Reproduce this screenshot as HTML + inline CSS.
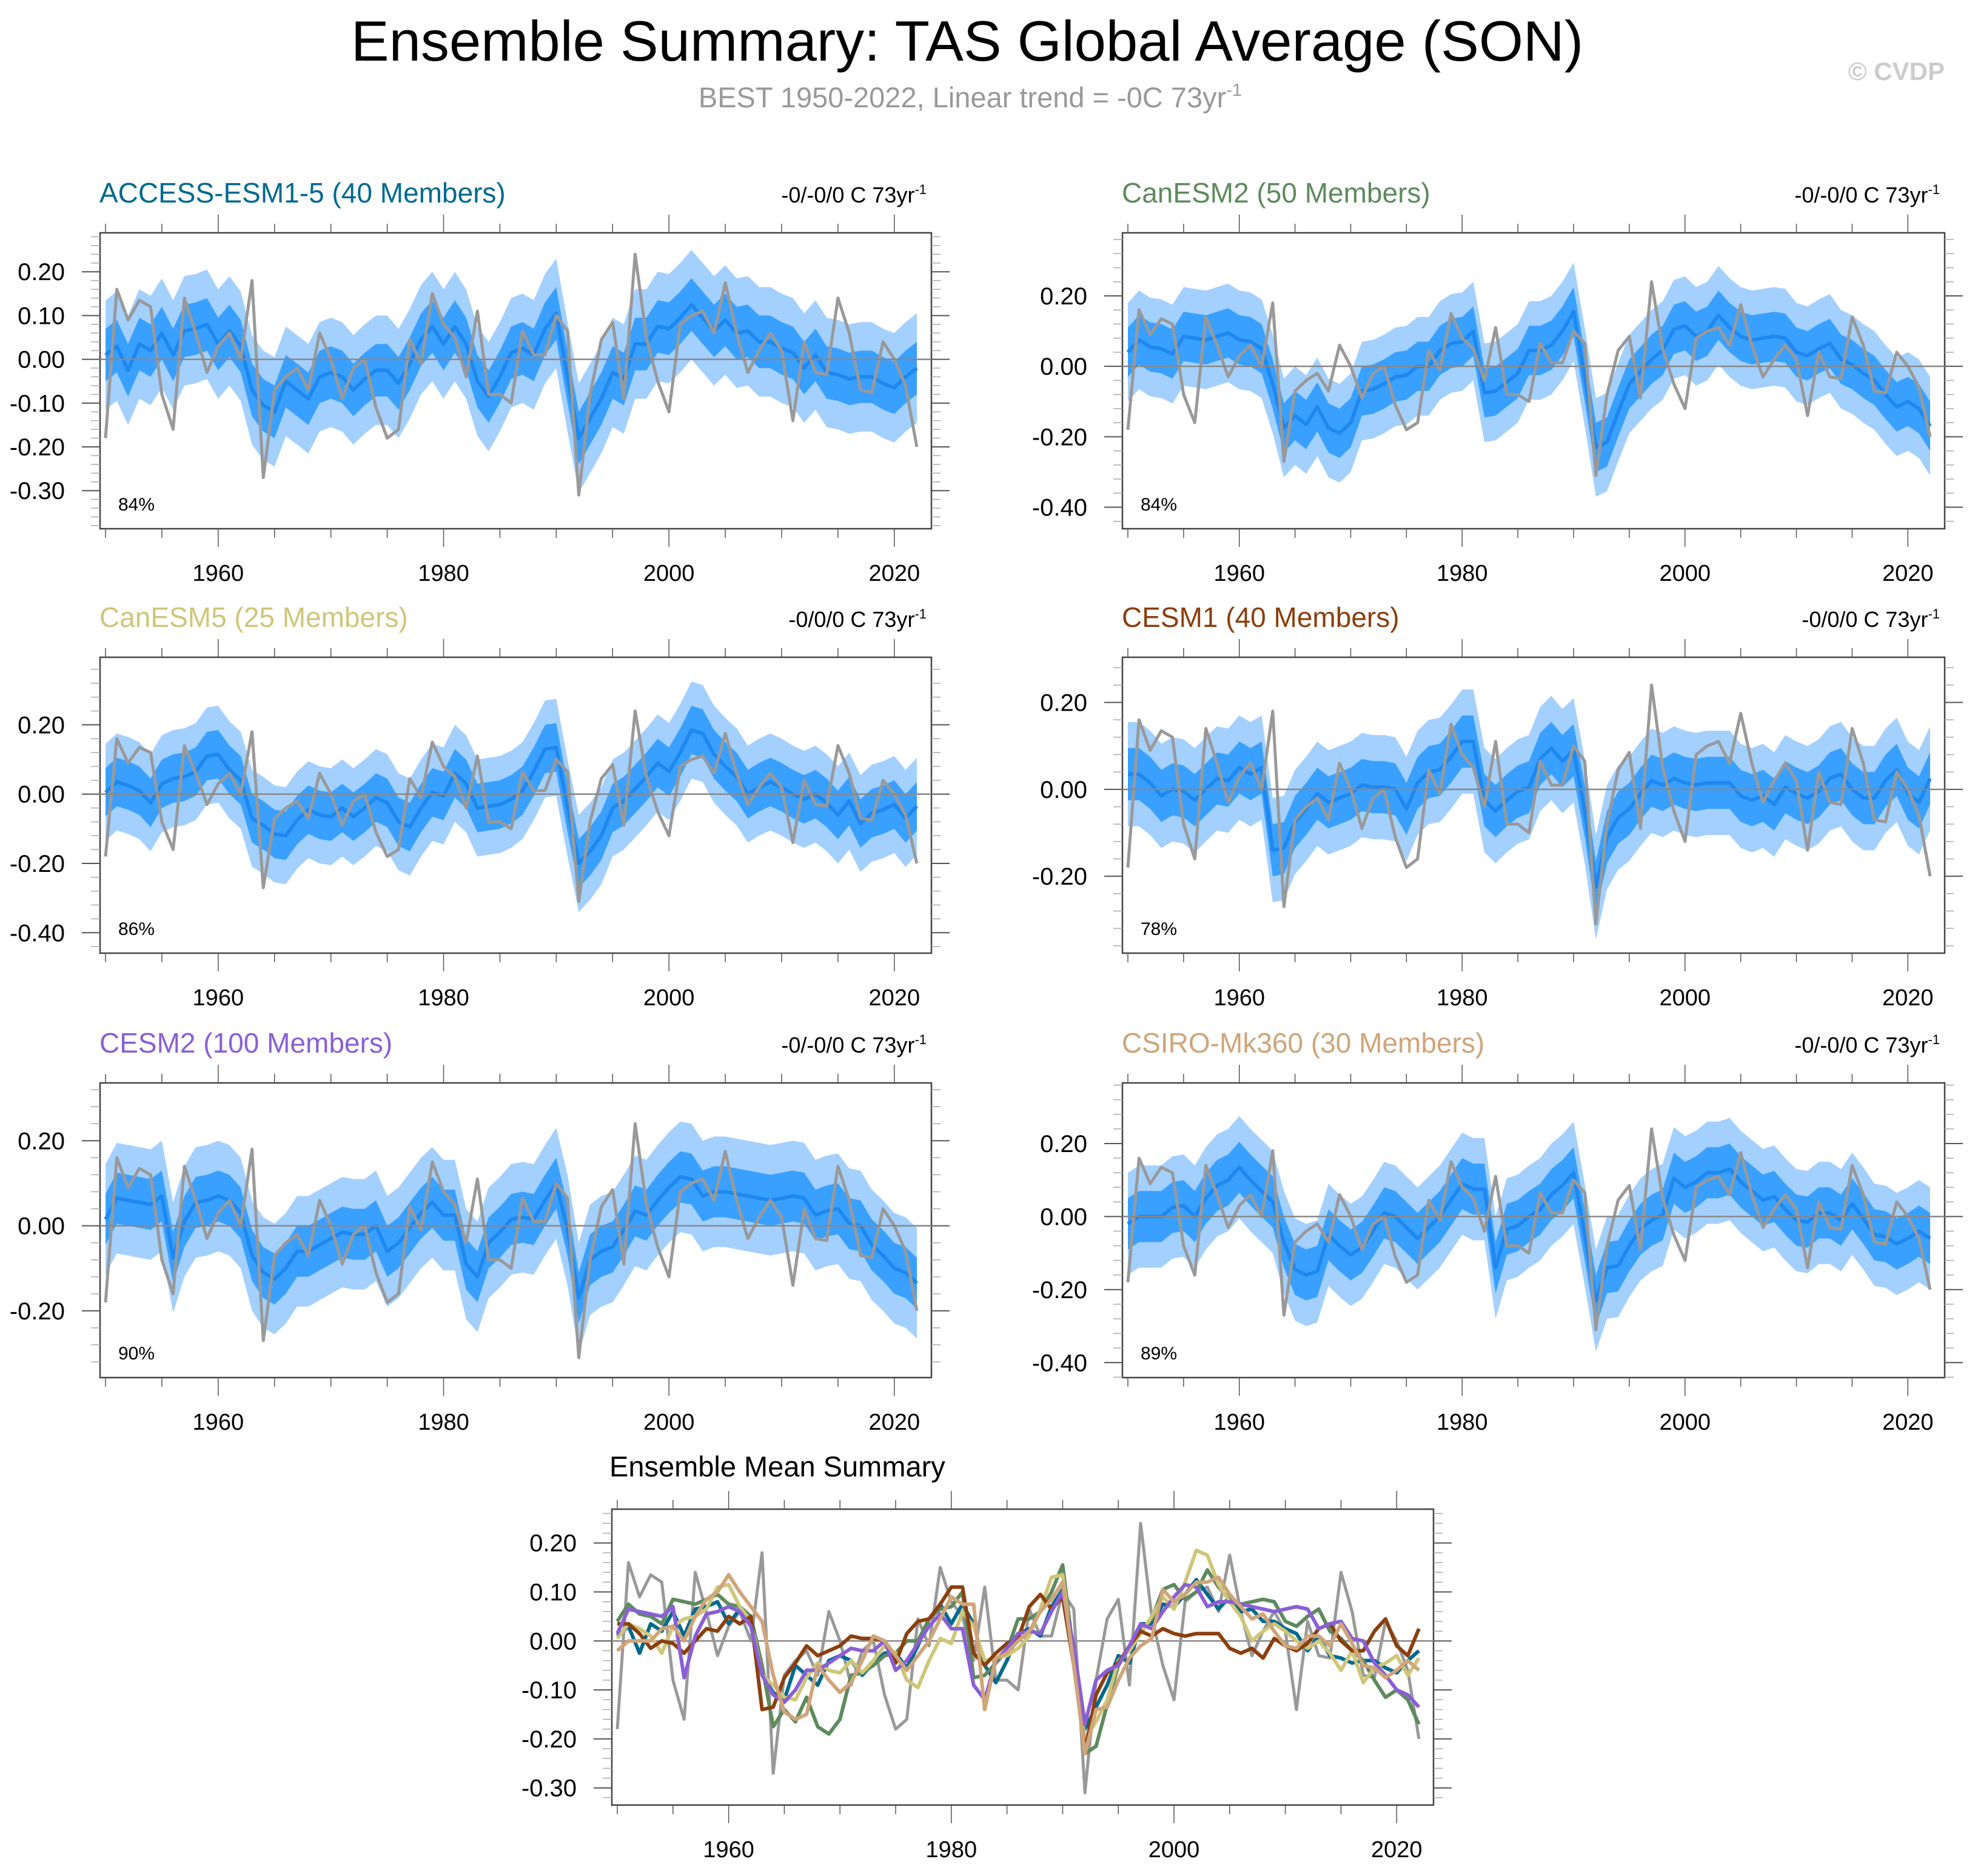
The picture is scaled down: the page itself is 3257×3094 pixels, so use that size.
<!DOCTYPE html>
<html><head><meta charset="utf-8"><style>
html,body{margin:0;padding:0;background:#fff;}
svg{display:block;font-family:"Liberation Sans",sans-serif;}
</style></head><body>
<svg id="fig" xmlns="http://www.w3.org/2000/svg" width="3257" height="3094" viewBox="0 0 3257 3094">
<rect width="3257" height="3094" fill="#fff"/>
<text x="1595" y="100" font-size="94" text-anchor="middle" fill="#000">Ensemble Summary: TAS Global Average (SON)</text>
<text x="1600" y="177" font-size="47" text-anchor="middle" fill="#999">BEST 1950-2022, Linear trend = -0C 73yr<tspan dy="-19" font-size="29">-1</tspan></text>
<text x="3207" y="132" font-size="42" font-weight="bold" text-anchor="end" fill="#ccc">© CVDP</text>
<g id="panels"></g>
</svg>
<script>
const years = []; for (let y = 1950; y <= 2022; y++) years.push(y);
const obs = [-0.18,0.16,0.09,0.135,0.12,-0.08,-0.16,0.14,0.06,-0.03,0.03,0.06,0.0,0.18,-0.27,-0.07,-0.04,-0.02,-0.07,0.06,0.0,-0.09,-0.02,0.0,-0.11,-0.18,-0.16,0.045,-0.01,0.15,0.08,0.05,-0.04,0.11,-0.08,-0.08,-0.10,0.065,0.01,0.01,0.10,0.065,-0.31,-0.08,0.045,0.085,-0.09,0.24,0.05,-0.05,-0.12,0.08,0.10,0.11,0.06,0.175,0.06,-0.03,0.02,0.06,0.02,-0.14,0.04,-0.03,-0.035,0.14,0.06,-0.07,-0.075,0.04,0.0,-0.06,-0.20];
const meanACCESS = [0.01,0.03,-0.025,0.035,0.02,0.06,0.01,0.065,0.07,0.08,0.035,0.065,0.03,-0.07,-0.105,-0.12,-0.05,-0.07,-0.09,-0.04,-0.03,-0.04,-0.07,-0.045,-0.025,-0.025,-0.055,-0.01,0.045,0.075,0.035,0.075,0.035,-0.05,-0.085,-0.04,0.015,0.025,0.01,0.07,0.105,-0.04,-0.18,-0.135,-0.09,-0.03,-0.045,0.035,0.035,0.075,0.07,0.095,0.125,0.095,0.065,0.09,0.06,0.065,0.04,0.04,0.025,0.015,-0.02,0.01,-0.03,-0.035,-0.045,-0.04,-0.04,-0.055,-0.065,-0.04,-0.02];
const meanCanESM2 = [0.04,0.075,0.055,0.05,0.035,0.085,0.08,0.075,0.085,0.095,0.075,0.07,0.05,-0.05,-0.175,-0.14,-0.165,-0.115,-0.175,-0.19,-0.16,-0.07,-0.065,-0.05,-0.03,-0.025,0.0,0.0,0.045,0.065,0.07,0.1,-0.075,-0.07,-0.045,-0.02,0.045,0.045,0.06,0.1,0.155,-0.03,-0.23,-0.215,-0.13,-0.05,-0.015,0.02,0.045,0.105,0.115,0.085,0.10,0.145,0.11,0.085,0.075,0.08,0.085,0.08,0.04,0.03,0.05,0.065,0.02,0.005,-0.02,-0.04,-0.08,-0.115,-0.1,-0.12,-0.17];
const meanCanESM5 = [0.005,0.035,0.025,0.01,-0.025,0.03,0.045,0.05,0.065,0.11,0.115,0.07,0.04,-0.07,-0.09,-0.115,-0.12,-0.075,-0.045,-0.06,-0.065,-0.04,-0.065,-0.04,-0.01,-0.025,-0.08,-0.095,-0.04,0.005,-0.005,0.06,0.03,-0.04,-0.035,-0.03,-0.015,0.01,0.065,0.13,0.135,-0.04,-0.2,-0.165,-0.12,-0.04,-0.02,0.015,0.05,0.09,0.065,0.12,0.185,0.175,0.115,0.08,0.05,0.0,0.02,0.035,0.02,0.0,-0.015,0.0,-0.025,-0.06,-0.02,-0.085,-0.055,-0.045,-0.03,-0.07,-0.035];
const meanCESM1 = [0.035,0.035,0.015,-0.015,0.0,-0.005,-0.025,0.0,0.025,0.02,0.05,0.035,0.05,-0.14,-0.135,-0.075,-0.045,-0.01,-0.03,-0.02,-0.01,0.01,0.005,0.005,0.0,-0.045,0.015,0.04,0.045,0.075,0.11,0.11,-0.025,-0.05,-0.025,-0.005,0.005,0.07,0.095,0.065,0.09,-0.05,-0.225,-0.11,-0.065,-0.045,-0.01,0.02,0.01,0.025,0.015,0.01,0.015,0.015,0.015,-0.015,-0.025,-0.015,-0.035,0.005,-0.01,-0.02,-0.005,0.025,0.035,0.0,-0.02,-0.02,0.02,0.045,-0.01,-0.03,0.025];
const meanCESM2 = [0.015,0.065,0.06,0.055,0.05,0.07,-0.075,0.01,0.055,0.06,0.07,0.06,0.03,-0.07,-0.11,-0.125,-0.1,-0.06,-0.06,-0.045,-0.03,-0.015,-0.02,-0.02,0.0,-0.06,-0.04,-0.005,0.03,0.055,0.025,0.025,-0.09,-0.12,-0.04,-0.015,0.015,0.02,0.015,0.06,0.1,-0.01,-0.17,-0.08,-0.06,-0.05,-0.01,0.035,0.025,0.06,0.09,0.115,0.11,0.07,0.08,0.08,0.075,0.07,0.065,0.06,0.065,0.07,0.065,0.025,0.035,0.04,0.005,0.0,-0.045,-0.07,-0.1,-0.11,-0.135];
const meanCSIRO = [-0.02,0.0,0.0,0.0,0.025,0.03,0.0,0.05,0.085,0.1,0.135,0.1,0.07,0.04,-0.07,-0.145,-0.16,-0.15,-0.05,-0.08,-0.105,-0.085,-0.04,0.01,0.0,-0.03,-0.06,-0.03,0.0,0.045,0.09,0.075,0.075,-0.14,-0.035,-0.025,0.0,0.02,0.06,0.085,0.12,-0.05,-0.23,-0.14,-0.135,-0.08,-0.035,-0.01,0.005,0.105,0.08,0.095,0.12,0.12,0.13,0.095,0.07,0.045,0.055,0.02,-0.01,-0.015,0.01,0.01,-0.01,0.035,-0.005,-0.05,-0.055,-0.075,-0.06,-0.04,-0.06];
const innerSpread = [0.06,0.07,0.07,0.06,0.06,0.07];
const outerSpread = [0.125,0.14,0.14,0.12,0.13,0.14];
const pctLabels = ["84%","84%","86%","78%","90%","89%"];
const trendLabels = ["-0/-0/0 C 73yr","-0/-0/0 C 73yr","-0/0/0 C 73yr","-0/0/0 C 73yr","-0/-0/0 C 73yr","-0/-0/0 C 73yr"];
const modelNames = ["ACCESS-ESM1-5 (40 Members)","CanESM2 (50 Members)","CanESM5 (25 Members)","CESM1 (40 Members)","CESM2 (100 Members)","CSIRO-Mk360 (30 Members)"];
const xTickYears = [1960,1980,2000,2020];

const means = [meanACCESS,meanCanESM2,meanCanESM5,meanCESM1,meanCESM2,meanCSIRO];
const colors = ["#00698f","#5e8a5e","#cfc67a","#8b3f0e","#8a5fd6","#cfa57a"];
const boxes = [
  {x0:165,x1:1536,y0:384,y1:872,ymin:-0.387,ymax:0.289,step:0.1,minor:0.02},
  {x0:1851,x1:3207,y0:384,y1:872,ymin:-0.461,ymax:0.379,step:0.2,minor:0.04},
  {x0:165,x1:1536,y0:1084,y1:1572,ymin:-0.459,ymax:0.395,step:0.2,minor:0.04},
  {x0:1851,x1:3207,y0:1084,y1:1572,ymin:-0.377,ymax:0.304,step:0.2,minor:0.04},
  {x0:165,x1:1536,y0:1786,y1:2272,ymin:-0.357,ymax:0.336,step:0.2,minor:0.04},
  {x0:1851,x1:3207,y0:1786,y1:2272,ymin:-0.441,ymax:0.366,step:0.2,minor:0.04}
];
const NS = "http://www.w3.org/2000/svg";
const root = document.getElementById("panels");
function mk(tag, attrs, parent){ const e=document.createElementNS(NS,tag); for(const k in attrs) e.setAttribute(k,attrs[k]); (parent||root).appendChild(e); return e; }

function drawAxes(g, b, sx, sy){
  const frame = mk("rect",{x:b.x0,y:b.y0,width:b.x1-b.x0,height:b.y1-b.y0,fill:"none",stroke:"#444","stroke-width":2.5},g);
  
  
  for(let yr=1950; yr<=2020; yr+=5){
    const x=sx(yr), major=(yr%20===0);
    const L=major?30:15;
    mk("line",{x1:x,y1:b.y0,x2:x,y2:b.y0-L,stroke:"#555","stroke-width":1.5},g);
    mk("line",{x1:x,y1:b.y1,x2:x,y2:b.y1+L,stroke:"#555","stroke-width":1.5},g);
  }
  xTickYears.forEach(yr=>{
    const t=mk("text",{x:sx(yr),y:b.y1+86,"font-size":38,"text-anchor":"middle",fill:"#000"},g);
    t.textContent=yr;
    
    
  });
  const eps=1e-9;
  for(let v=Math.ceil(b.ymin/b.minor)*b.minor; v<=b.ymax+eps; v+=b.minor){
    const vr=Math.round(v/b.minor)*b.minor;
    const major=Math.abs(vr/b.step-Math.round(vr/b.step))<1e-6;
    const y=sy(vr), L=major?30:15;
    mk("line",{x1:b.x0,y1:y,x2:b.x0-L,y2:y,stroke:major?"#555":"#aaa","stroke-width":major?2:1.5},g);
    mk("line",{x1:b.x1,y1:y,x2:b.x1+L,y2:y,stroke:major?"#555":"#aaa","stroke-width":major?2:1.5},g);
    if(major){
      const t=mk("text",{x:b.x0-58,y:y+14,"font-size":40,"text-anchor":"end",fill:"#000"},g);
      t.textContent=vr.toFixed(2);
      
      
    }
  }
  const z=mk("line",{x1:b.x0,y1:sy(0),x2:b.x1,y2:sy(0),stroke:"#888","stroke-width":2.5},g);
  
  
}
function pathOf(arr, sx, sy){ return arr.map((v,i)=>(i?"L":"M")+sx(years[i]).toFixed(1)+","+sy(v).toFixed(1)).join(""); }
function bandOf(arr, d, sx, sy){
  const up=arr.map((v,i)=>sx(years[i]).toFixed(1)+","+sy(v+d).toFixed(1));
  const dn=arr.map((v,i)=>sx(years[i]).toFixed(1)+","+sy(v-d).toFixed(1)).reverse();
  return "M"+up.join("L")+"L"+dn.join("L")+"Z";
}

boxes.forEach((b,m)=>{
  const g=mk("g",{});
  
  
  const sx=yr=>b.x0+9+(yr-1950)*(b.x1-b.x0-33)/72;
  const sy=v=>b.y1-(v-b.ymin)/(b.ymax-b.ymin)*(b.y1-b.y0);
  const clipId="clip"+m;
  const cp=mk("clipPath",{id:clipId},g); mk("rect",{x:b.x0,y:b.y0,width:b.x1-b.x0,height:b.y1-b.y0},cp);
  const inner=mk("g",{"clip-path":"url(#"+clipId+")"},g);
  const ob=mk("path",{d:bandOf(means[m],outerSpread[m],sx,sy),fill:"#a3d0ff"},inner);
  
  
  const ib=mk("path",{d:bandOf(means[m],innerSpread[m],sx,sy),fill:"#3aa0ff"},inner);
  
  
  drawAxes(g,b,sx,sy);
  const ml=mk("path",{d:pathOf(means[m],sx,sy),fill:"none",stroke:"#1e88ef","stroke-width":6,"stroke-linejoin":"round"},inner);
  
  
  const ol=mk("path",{d:pathOf(obs,sx,sy),fill:"none",stroke:"#999","stroke-width":5,"stroke-linejoin":"round"},inner);
  
  
  const tt=mk("text",{x:b.x0-1,y:b.y0-50,"font-size":46,fill:colors[m]},g);
  tt.textContent=modelNames[m];
  
  
  const tr=mk("text",{x:b.x1-8,y:b.y0-50,"font-size":36,"text-anchor":"end",fill:"#000"},g);
  tr.textContent=trendLabels[m];
  const sup=mk("tspan",{dy:-14,"font-size":22},tr); sup.textContent="-1";
  
  
  const pl=mk("text",{x:b.x0+30,y:b.y1-30,"font-size":30,fill:"#000"},g);
  pl.textContent=pctLabels[m];
  
  
});

(function(){
  const b={x0:1009,x1:2364,y0:2489,y1:2977,ymin:-0.335,ymax:0.269,step:0.1,minor:0.02};
  const g=mk("g",{});
  
  
  const sx=yr=>b.x0+9+(yr-1950)*(b.x1-b.x0-33)/72;
  const sy=v=>b.y1-(v-b.ymin)/(b.ymax-b.ymin)*(b.y1-b.y0);
  drawAxes(g,b,sx,sy);
  const ol=mk("path",{d:pathOf(obs,sx,sy),fill:"none",stroke:"#999","stroke-width":5,"stroke-linejoin":"round"},g);
  
  
  means.forEach((arr,m)=>{
    const l=mk("path",{d:pathOf(arr,sx,sy),fill:"none",stroke:colors[m],"stroke-width":6,"stroke-linejoin":"round"},g);
    
    
  });
  const t=mk("text",{x:1005,y:2435,"font-size":47,fill:"#000"},g);
  t.textContent="Ensemble Mean Summary";
  
  
})();
</script>
</body></html>
